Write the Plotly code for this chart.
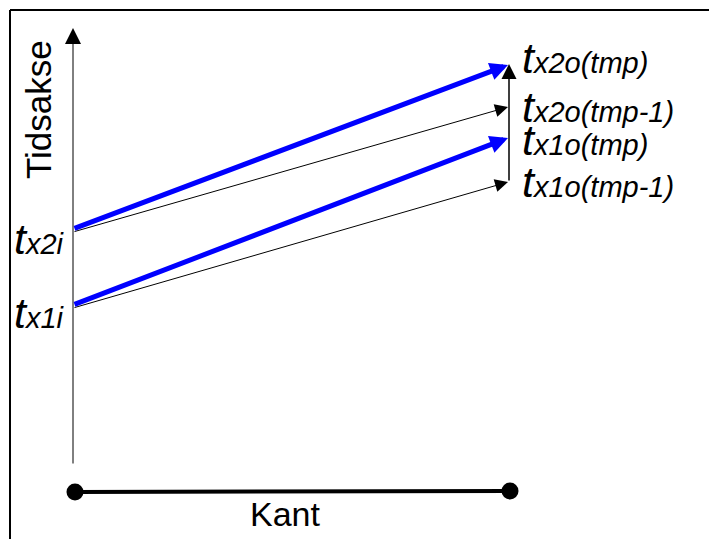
import plotly.graph_objects as go

# Schematic coordinates (pixel-like units, y grows downward)
axis_x = 73
axis_y_bottom = 465
axis_y_top = 28

edge_x = [75, 510]
edge_y = [492, 491]

# Arrows: (tail_x, tail_y, tip_x, tip_y)
blue_tails_x = [73, 73]
blue_tails_y = [229, 305]
blue_tips_x = [508, 508]
blue_tips_y = [65, 138]

thin_tails_x = [73, 73]
thin_tails_y = [232, 308]
thin_tips_x = [508, 508]
thin_tips_y = [107, 182]

vert_x = 509
vert_y_bottom = 182
vert_y_top = 64

right_labels = ["x2o(tmp)", "x2o(tmp-1)", "x1o(tmp)", "x1o(tmp-1)"]
right_label_y = [74, 123, 156, 198]
right_label_x = 520

left_labels = ["x2i", "x1i"]
left_label_y = [255, 329]
left_label_x = 12

FONT = "Arial, Liberation Sans, sans-serif"

fig = go.Figure()

# Edge line with endpoints
fig.add_trace(go.Scatter(
    x=edge_x, y=edge_y, mode="lines+markers",
    line=dict(color="black", width=4),
    marker=dict(color="black", size=17),
    hoverinfo="skip", showlegend=False))

ann = []
# Time axis arrow
ann.append(dict(x=axis_x, y=axis_y_top, ax=axis_x, ay=axis_y_bottom,
                xref="x", yref="y", axref="x", ayref="y", text="",
                showarrow=True, arrowhead=2, arrowsize=3.2, arrowwidth=1,
                arrowcolor="black"))
# Vertical arrow on right
ann.append(dict(x=vert_x, y=vert_y_top, ax=vert_x, ay=vert_y_bottom,
                xref="x", yref="y", axref="x", ayref="y", text="",
                showarrow=True, arrowhead=2, arrowsize=2.0, arrowwidth=1.5,
                arrowcolor="black"))
for tx, ty, hx, hy in zip(thin_tails_x, thin_tails_y, thin_tips_x, thin_tips_y):
    ann.append(dict(x=hx, y=hy, ax=tx, ay=ty,
                    xref="x", yref="y", axref="x", ayref="y", text="",
                    showarrow=True, arrowhead=2, arrowsize=2.6, arrowwidth=1,
                    arrowcolor="black"))
for tx, ty, hx, hy in zip(blue_tails_x, blue_tails_y, blue_tips_x, blue_tips_y):
    ann.append(dict(x=hx, y=hy, ax=tx, ay=ty,
                    xref="x", yref="y", axref="x", ayref="y", text="",
                    showarrow=True, arrowhead=2, arrowsize=0.72, arrowwidth=5,
                    arrowcolor="#0000ff"))


def lbl(sub):
    return ("<i><span style='font-size:43px'>t</span>"
            "<span style='font-size:29px'>%s</span></i>" % sub)


for s, y in zip(right_labels, right_label_y):
    ann.append(dict(x=right_label_x, y=y, text=lbl(s), xref="x", yref="y",
                    xanchor="left", yanchor="bottom", showarrow=False,
                    font=dict(family=FONT, color="black"), yshift=-10))
for s, y in zip(left_labels, left_label_y):
    ann.append(dict(x=left_label_x, y=y, text=lbl(s), xref="x", yref="y",
                    xanchor="left", yanchor="bottom", showarrow=False,
                    font=dict(family=FONT, color="black"), yshift=-10))

ann.append(dict(x=38, y=110, text="Tidsakse", textangle=-90, xref="x", yref="y",
                showarrow=False, font=dict(family=FONT, size=35, color="black")))
ann.append(dict(x=285, y=514, text="Kant", xref="x", yref="y",
                showarrow=False, font=dict(family=FONT, size=34, color="black")))

shapes = [
    dict(type="line", xref="paper", yref="y", x0=10 / 709, x1=1.0, y0=10, y1=10,
         line=dict(color="black", width=2)),
    dict(type="line", xref="x", yref="paper", x0=10, x1=10, y0=0, y1=1 - 10 / 539,
         line=dict(color="black", width=2)),
]

fig.update_layout(
    width=709, height=539,
    margin=dict(l=0, r=0, t=0, b=0),
    paper_bgcolor="white", plot_bgcolor="white",
    xaxis=dict(range=[0, 709], visible=False, fixedrange=True, showline=False, zeroline=False),
    yaxis=dict(range=[539, 0], visible=False, fixedrange=True, showline=False, zeroline=False),
    annotations=ann, shapes=shapes, showlegend=False,
)

fig.write_html("out.html", config={"displayModeBar": False},
               post_script="document.documentElement.style.margin='0px';document.documentElement.style.overflow='hidden';document.body.style.margin='0px';document.body.style.overflow='hidden';")
